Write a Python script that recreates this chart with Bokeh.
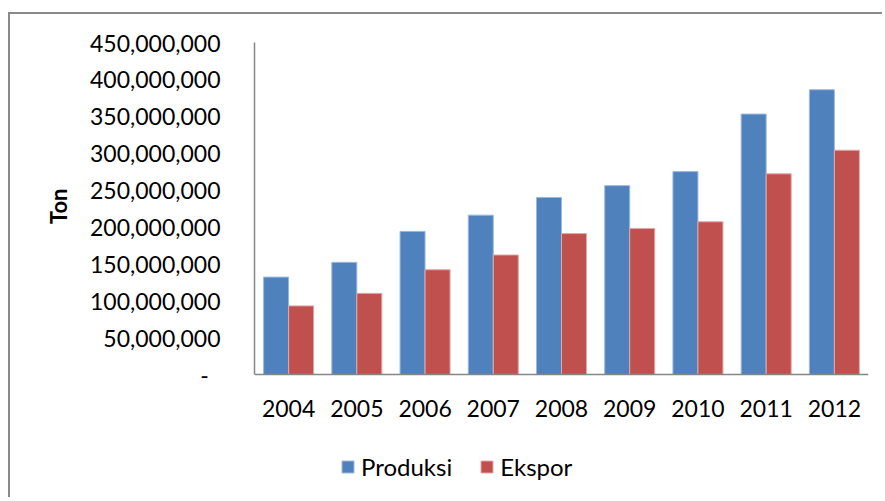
from bokeh.plotting import figure
from bokeh.models import (ColumnDataSource, FactorRange, Range1d, FixedTicker,
                          CustomJSTickFormatter, Legend, LegendItem, Title)
from bokeh.transform import dodge
from bokeh.embed import file_html
from bokeh.resources import INLINE

years = ["2004", "2005", "2006", "2007", "2008", "2009", "2010", "2011", "2012"]
produksi = [132_000_000, 152_000_000, 194_000_000, 216_000_000, 240_000_000,
            256_000_000, 275_000_000, 353_000_000, 386_000_000]
ekspor = [93_000_000, 110_000_000, 142_000_000, 162_000_000, 191_000_000,
          198_000_000, 207_000_000, 272_000_000, 304_000_000]
y_ticks = [0, 50_000_000, 100_000_000, 150_000_000, 200_000_000,
           250_000_000, 300_000_000, 350_000_000, 400_000_000, 450_000_000]

FONT = "Lato"
FS = "23px"
Y_MAX = 450_000_000
# frame: 332 px for the 0..450M value axis, 125 px below zero for labels/legend
Y_MIN = -Y_MAX * 125 / 332

src = ColumnDataSource(dict(year=years, produksi=produksi, ekspor=ekspor))

p = figure(width=874, height=485, output_backend="svg", toolbar_location=None,
           x_range=FactorRange(*years, range_padding=0),
           y_range=Range1d(Y_MIN, Y_MAX),
           min_border_left=244, min_border_right=16, min_border_top=28,
           min_border_bottom=0,
           styles={"margin-left": "8px", "margin-top": "12px",
                   "border-left": "2px solid #8a8a8a",
                   "border-top": "2px solid #8a8a8a"})
p.outline_line_color = None
p.background_fill_color = "white"
p.border_fill_color = "white"
p.xgrid.grid_line_color = None
p.ygrid.grid_line_color = None

bw = 0.3666
r1 = p.vbar(x=dodge("year", -bw / 2, range=p.x_range), top="produksi", width=bw,
            source=src, fill_color="#4F81BD", line_color="#9DB9DD", line_width=1)
r2 = p.vbar(x=dodge("year", bw / 2, range=p.x_range), top="ekspor", width=bw,
            source=src, fill_color="#C0504D", line_color="#E2A9A7", line_width=1)

# axes
p.yaxis.ticker = FixedTicker(ticks=y_ticks)
p.yaxis.bounds = (0, Y_MAX)
p.yaxis.formatter = CustomJSTickFormatter(
    code="return tick == 0 ? '-\\u00a0\\u00a0' : tick.toLocaleString('en-US');")
p.xaxis.fixed_location = 0
for ax in (p.xaxis[0], p.yaxis[0]):
    ax.axis_line_color = "#868686"
    ax.axis_line_width = 1.5
    ax.major_tick_line_color = None
    ax.minor_tick_line_color = None
    ax.major_tick_out = 0
    ax.major_tick_in = 0
    ax.minor_tick_out = 0
    ax.minor_tick_in = 0
    ax.major_label_text_font = FONT
    ax.major_label_text_font_size = FS
    ax.major_label_text_color = "black"
p.yaxis.major_label_standoff = 34
p.xaxis.major_label_standoff = 25

# y axis title ("Ton"), placed beside the 0..450M part of the axis
p.add_layout(Title(text="Ton", align="right", offset=146, standoff=29,
                   text_font=FONT, text_font_style="bold",
                   text_font_size="22px", text_color="black"), "left")

legend = Legend(items=[LegendItem(label="Produksi", renderers=[r1]),
                       LegendItem(label="Ekspor", renderers=[r2])],
                location=(86, 18), orientation="horizontal",
                glyph_width=15, glyph_height=15, label_standoff=6, spacing=27,
                padding=0, margin=0, border_line_color=None,
                background_fill_alpha=0,
                label_text_font=FONT, label_text_font_size="24px",
                label_text_color="black")
p.add_layout(legend, "center")

open("out.html", "w").write(file_html(p, INLINE))
